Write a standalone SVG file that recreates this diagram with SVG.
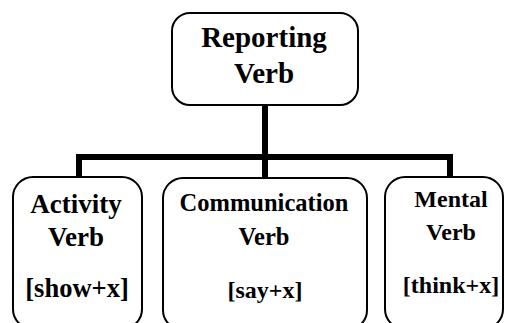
<svg xmlns="http://www.w3.org/2000/svg" width="505" height="323" viewBox="0 0 505 323">
<style>
.box{fill:#fff;stroke:#000;stroke-width:2}
.t{font-family:"Liberation Serif","Times New Roman",serif;font-weight:bold;fill:#000;text-anchor:middle}
.conn{fill:none;stroke:#000;stroke-width:6;stroke-linejoin:miter;stroke-linecap:butt}
</style>
<rect width="505" height="323" fill="#fff"/>
<g id="connectors">
<path class="conn" d="M265 105 V157"/>
<path class="conn" d="M79 178 V157 H450 V178"/>
<path class="conn" d="M265 157 V179"/>
</g>
<g id="reporting">
<rect class="box" x="172" y="13" width="186" height="92" rx="18"/>
<text class="t" x="264" y="47" font-size="29">Reporting</text>
<text class="t" x="264" y="83" font-size="29">Verb</text>
</g>
<g id="activity">
<rect class="box" x="13" y="177" width="129" height="152" rx="20"/>
<text class="t" x="76" y="213" font-size="27">Activity</text>
<text class="t" x="76" y="246" font-size="27">Verb</text>
<text class="t" x="77" y="297" font-size="26.5">[show+x]</text>
</g>
<g id="communication">
<rect class="box" x="163" y="178" width="204" height="152" rx="20"/>
<text class="t" x="264" y="211" font-size="24.5">Communication</text>
<text class="t" x="264" y="245" font-size="24.5">Verb</text>
<text class="t" x="265" y="298" font-size="24">[say+x]</text>
</g>
<g id="mental">
<rect class="box" x="385" y="177" width="118" height="152" rx="20"/>
<text class="t" x="451" y="207" font-size="24">Mental</text>
<text class="t" x="451" y="240" font-size="24">Verb</text>
<text class="t" x="451" y="293" font-size="24">[think+x]</text>
</g>
</svg>
